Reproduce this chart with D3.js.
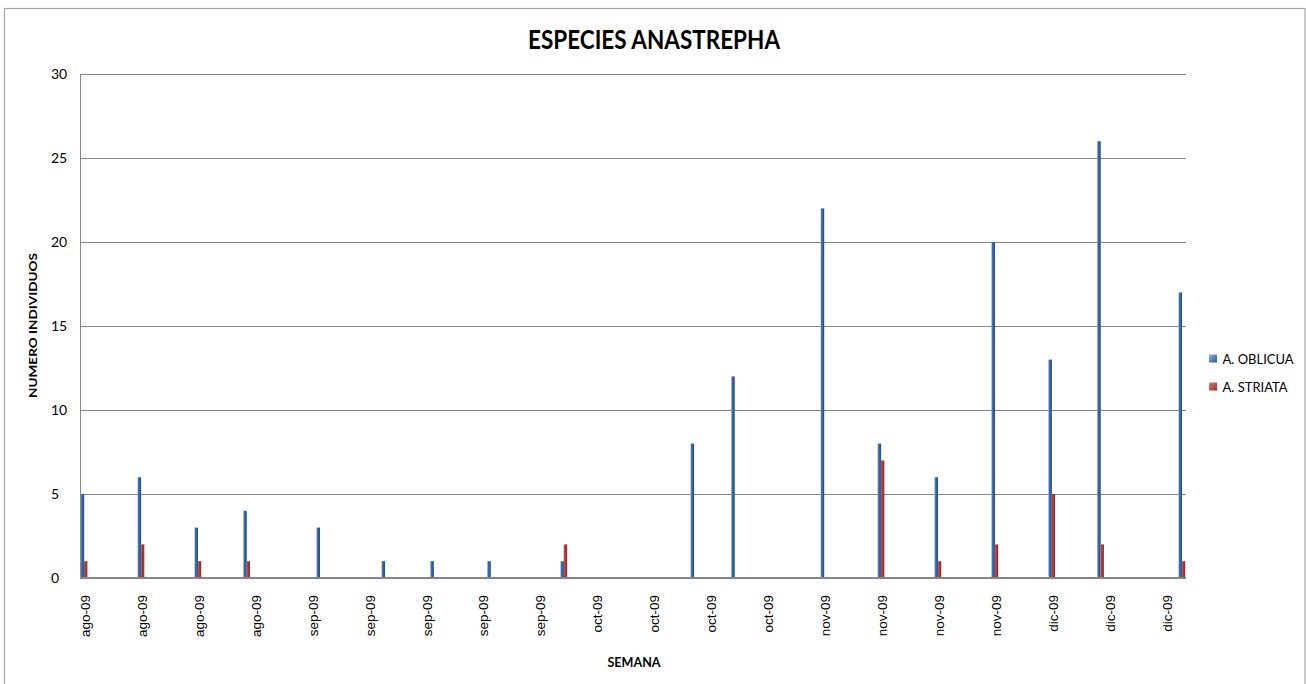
<!DOCTYPE html>
<html>
<head>
<meta charset="utf-8">
<script src="https://cdn.jsdelivr.net/npm/d3@7"></script>
<style>
  html, body { margin: 0; padding: 0; background: #ffffff; }
  svg { display: block; }
</style>
</head>
<body>
<svg id="chart" width="1306" height="684"></svg>
<script>
// ---- data ----
const sampleDates = ["2009-08-04","2009-08-11","2009-08-18","2009-08-24","2009-09-02","2009-09-10",
  "2009-09-16","2009-09-23","2009-10-02","2009-10-18","2009-10-23","2009-11-03","2009-11-10",
  "2009-11-17","2009-11-24","2009-12-01","2009-12-07","2009-12-17"];
const oblicua = [5, 6, 3, 4, 3, 1, 1, 1, 1, 8, 12, 22, 8, 6, 20, 13, 26, 17];
const striata = [1, 2, 1, 1, 0, 0, 0, 0, 2, 0, 0, 0, 7, 1, 2, 5, 2, 1];
const seriesNames = ["A. OBLICUA", "A. STRIATA"];
const tickLabels = ["ago-09","ago-09","ago-09","ago-09","sep-09","sep-09","sep-09","sep-09","sep-09",
  "oct-09","oct-09","oct-09","oct-09","nov-09","nov-09","nov-09","nov-09","dic-09","dic-09","dic-09"];
const yTicks = [0, 5, 10, 15, 20, 25, 30];
const titleText = "ESPECIES ANASTREPHA";
const xTitle = "SEMANA";
const yTitle = "NUMERO INDIVIDUOS";

// ---- layout ----
const parse = d3.utcParse("%Y-%m-%d");
const dates = sampleDates.map(parse);
const startDate = dates[0];
const endDate = d3.utcDay.offset(dates[dates.length - 1], 1);
const plot = { left: 80, right: 1186, top: 74, bottom: 578 };

const svg = d3.select("#chart");
const x = d3.scaleUtc().domain([startDate, endDate]).range([plot.left, plot.right]);
const y = d3.scaleLinear().domain([0, 30]).range([plot.bottom, plot.top]);
const slot = x(d3.utcDay.offset(startDate, 1)) - x(startDate);

// gradients
const defs = svg.append("defs");
function grad(id, stops) {
  const g = defs.append("linearGradient").attr("id", id)
    .attr("x1", "0%").attr("x2", "100%").attr("y1", "0%").attr("y2", "0%");
  stops.forEach(s => g.append("stop").attr("offset", s[0]).attr("stop-color", s[1]));
}
grad("gBlue", [["0%", "#6d9ad3"], ["35%", "#3a68a6"], ["100%", "#254d85"]]);
grad("gRed", [["0%", "#d0605c"], ["35%", "#b2403c"], ["100%", "#8a2a27"]]);
const lg = defs.append("linearGradient").attr("id", "lBlue").attr("x1", "0%").attr("y1", "0%").attr("x2", "100%").attr("y2", "100%");
lg.append("stop").attr("offset", "0%").attr("stop-color", "#8db3e2");
lg.append("stop").attr("offset", "100%").attr("stop-color", "#2d5a93");
const lr = defs.append("linearGradient").attr("id", "lRed").attr("x1", "0%").attr("y1", "0%").attr("x2", "100%").attr("y2", "100%");
lr.append("stop").attr("offset", "0%").attr("stop-color", "#e07a77");
lr.append("stop").attr("offset", "100%").attr("stop-color", "#9a2e2b");

// chart border
svg.append("rect")
  .attr("x", 4.5).attr("y", 8.5).attr("width", 1300.5).attr("height", 700)
  .attr("fill", "none").attr("stroke", "#a6a6a6").attr("stroke-width", 1.2);

// title
svg.append("text")
  .attr("x", 654).attr("y", 48.5)
  .attr("text-anchor", "middle")
  .attr("font-family", "Lato, 'Open Sans', sans-serif")
  .attr("font-weight", "bold").attr("font-size", 26)
  .attr("textLength", 252).attr("lengthAdjust", "spacingAndGlyphs")
  .attr("fill", "#000").text(titleText);

// y axis gridlines + labels
const yAxis = d3.axisLeft(y).tickValues(yTicks).tickSize(-(plot.right - plot.left)).tickPadding(0);
const gy = svg.append("g").attr("transform", `translate(${plot.left},0)`).call(yAxis);
gy.select(".domain").remove();
gy.selectAll(".tick line").attr("stroke", "#868686").attr("stroke-width", 1);
gy.selectAll(".tick text")
  .attr("x", -29).attr("text-anchor", "start")
  .attr("font-family", "Lato, 'Open Sans', sans-serif").attr("font-size", 14)
  .attr("fill", "#000");

// left axis line
svg.append("line")
  .attr("x1", plot.left + 0.5).attr("x2", plot.left + 0.5)
  .attr("y1", plot.top).attr("y2", plot.bottom)
  .attr("stroke", "#868686").attr("stroke-width", 1);

// bars
const barW = 3.5;
const rows = dates.map((d, i) => ({ d, a: oblicua[i], b: striata[i] }));
svg.append("g").selectAll("rect").data(rows).join("rect")
  .attr("x", r => x(r.d) + slot / 2 - 3.4)
  .attr("width", barW)
  .attr("y", r => y(r.a))
  .attr("height", r => y(0) - y(r.a))
  .attr("fill", "url(#gBlue)");
svg.append("g").selectAll("rect").data(rows.filter(r => r.b > 0)).join("rect")
  .attr("x", r => x(r.d) + slot / 2 - 0.2)
  .attr("width", barW)
  .attr("y", r => y(r.b))
  .attr("height", r => y(0) - y(r.b))
  .attr("fill", "url(#gRed)");

// x axis baseline
svg.append("line")
  .attr("x1", plot.left).attr("x2", plot.right)
  .attr("y1", plot.bottom).attr("y2", plot.bottom)
  .attr("stroke", "#868686").attr("stroke-width", 2);

// x axis labels
const tickDates = tickLabels.map((_, i) => d3.utcDay.offset(startDate, 7 * i));
const xAxis = d3.axisBottom(x).tickValues(tickDates).tickSize(0)
  .tickFormat((d, i) => tickLabels[i]);
const gx = svg.append("g").attr("transform", `translate(${slot / 2},${plot.bottom})`).call(xAxis);
gx.select(".domain").remove();
gx.selectAll(".tick text")
  .attr("transform", "rotate(-90)")
  .attr("x", -17).attr("y", 0).attr("dy", "0.4em")
  .attr("text-anchor", "end")
  .attr("font-family", "'Liberation Sans', Arial, sans-serif").attr("font-size", 13.5)
  .attr("fill", "#000");

// axis titles
svg.append("text")
  .attr("x", 634).attr("y", 667)
  .attr("text-anchor", "middle")
  .attr("font-family", "Lato, 'Open Sans', sans-serif")
  .attr("font-weight", "bold").attr("font-size", 14)
  .attr("textLength", 53).attr("lengthAdjust", "spacingAndGlyphs")
  .attr("fill", "#000").text(xTitle);
svg.append("text")
  .attr("transform", "translate(36.7,325.5) rotate(-90)")
  .attr("text-anchor", "middle")
  .attr("font-family", "Lato, 'Open Sans', sans-serif")
  .attr("font-weight", "bold").attr("font-size", 11.5)
  .attr("textLength", 145).attr("lengthAdjust", "spacingAndGlyphs")
  .attr("fill", "#000").text(yTitle);

// legend
const legend = svg.append("g");
const legFills = ["url(#lBlue)", "url(#lRed)"];
seriesNames.forEach((name, i) => {
  const gy0 = 354.5 + i * 28;
  legend.append("rect").attr("x", 1209).attr("y", gy0).attr("width", 8).attr("height", 8)
    .attr("fill", legFills[i]);
  legend.append("text").attr("x", 1222.5).attr("y", gy0 + 9.5)
    .attr("font-family", "Lato, 'Open Sans', sans-serif").attr("font-size", 13)
    .attr("fill", "#000").text(name);
});
</script>
</body>
</html>
